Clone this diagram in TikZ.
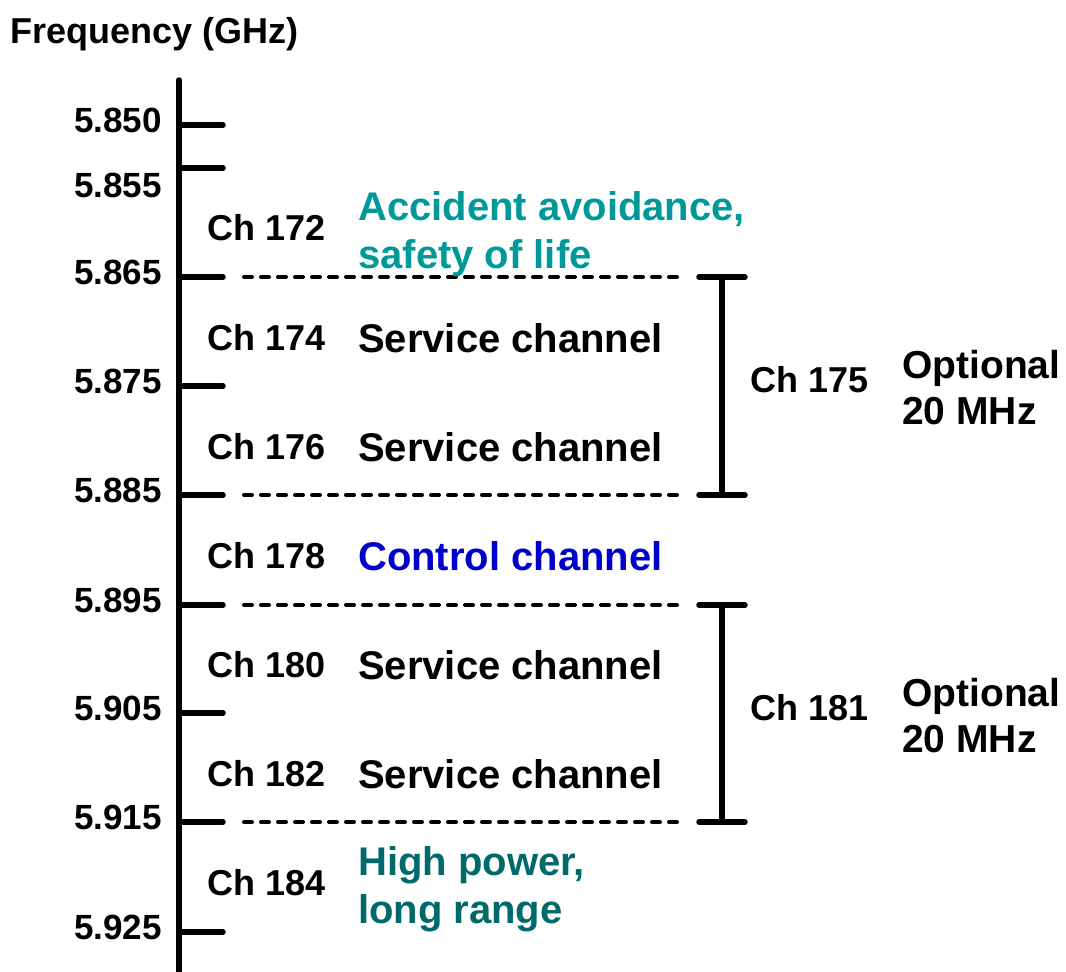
\documentclass[tikz,border=0pt]{standalone}
\usepackage{fontspec}
\setmainfont{Liberation Sans}
\definecolor{accteal}{RGB}{0,153,153}
\definecolor{hpteal}{RGB}{0,106,106}
\definecolor{ctrlblue}{RGB}{0,0,204}
\begin{document}
\begin{tikzpicture}[x=1pt,y=-1pt,
  tick/.style={line width=5.5pt,line cap=round},
  axisline/.style={line width=5.5pt,line cap=round},
  sep/.style={line width=4pt,line cap=round,dash pattern=on 8pt off 9pt},
  brack/.style={line width=5.5pt,line cap=round},
  freqlbl/.style={inner sep=0pt,anchor=base east,font=\bfseries\fontsize{35}{42}\selectfont},
  chlbl/.style={inner sep=0pt,anchor=base west,font=\bfseries\fontsize{36}{42}\selectfont},
  desc/.style={inner sep=0pt,anchor=base west,font=\bfseries\fontsize{40}{48}\selectfont},
  opt/.style={inner sep=0pt,anchor=base west,font=\bfseries\fontsize{39}{46}\selectfont}]
\useasboundingbox (0,0) rectangle (1066,972);

% title
\node[inner sep=0pt,anchor=base west,font=\bfseries\fontsize{36}{42}\selectfont] (title) at (10,43) {Frequency (GHz)};

% axis
\coordinate (axtop) at (179,80);
\coordinate (axbot) at (179,980);
\draw[axisline] (axtop) -- (axbot);

% ticks and labels
\foreach \n/\y/\ly/\t in {a/125/132/5.850, b/168/197/5.855, c/277/284/5.865, d/386/393/5.875, e/495/502/5.885, f/605/612/5.895, g/713/720/5.905, h/822/829/5.915, i/932/939/5.925}{
  \coordinate (tk\n) at (179,\y);
  \coordinate (te\n) at (223,\y);
  \draw[tick] (tk\n) -- (te\n);
  \node[freqlbl] (fl\n) at (162,\ly) {\t};
}

% dashed separators
\foreach \n/\y in {1/277, 2/495, 3/605, 4/822}{
  \coordinate (ds\n) at (244,\y);
  \coordinate (de\n) at (680,\y);
  \draw[sep] (ds\n) -- (de\n);
}

% channel labels
\node[chlbl] (ch172) at (207,240) {Ch 172};
\node[chlbl] (ch174) at (207,350) {Ch 174};
\node[chlbl] (ch176) at (207,459) {Ch 176};
\node[chlbl] (ch178) at (207,568) {Ch 178};
\node[chlbl] (ch180) at (207,677) {Ch 180};
\node[chlbl] (ch182) at (207,786) {Ch 182};
\node[chlbl] (ch184) at (207,895) {Ch 184};

% descriptions
\node[desc,text=accteal] (acc1) at (358,220) {Accident avoidance,};
\node[desc,text=accteal] (acc2) at (358,268) {safety of life};
\node[desc] (sv174) at (358,352) {Service channel};
\node[desc] (sv176) at (358,461) {Service channel};
\node[desc,text=ctrlblue] (ctrl) at (358,570) {Control channel};
\node[desc] (sv180) at (358,679) {Service channel};
\node[desc] (sv182) at (358,788) {Service channel};
\node[desc,text=hpteal] (hp1) at (358,875) {High power,};
\node[desc,text=hpteal] (hp2) at (358,923) {long range};

% brackets
\foreach \n/\ya/\yb in {1/277/495, 2/605/822}{
  \coordinate (bt\n) at (722,\ya);
  \coordinate (bb\n) at (722,\yb);
  \draw[brack] (bt\n) -- (bb\n);
  \draw[brack] ([xshift=-23pt]bt\n) -- ([xshift=23pt]bt\n);
  \draw[brack] ([xshift=-23pt]bb\n) -- ([xshift=23pt]bb\n);
}

\node[chlbl] (ch175) at (750,392) {Ch 175};
\node[chlbl] (ch181) at (750,720) {Ch 181};
\node[opt] (opt1a) at (902,378) {Optional};
\node[opt] (opt1b) at (902,424) {20 MHz};
\node[opt] (opt2a) at (902,706) {Optional};
\node[opt] (opt2b) at (902,752) {20 MHz};
\end{tikzpicture}
\end{document}
